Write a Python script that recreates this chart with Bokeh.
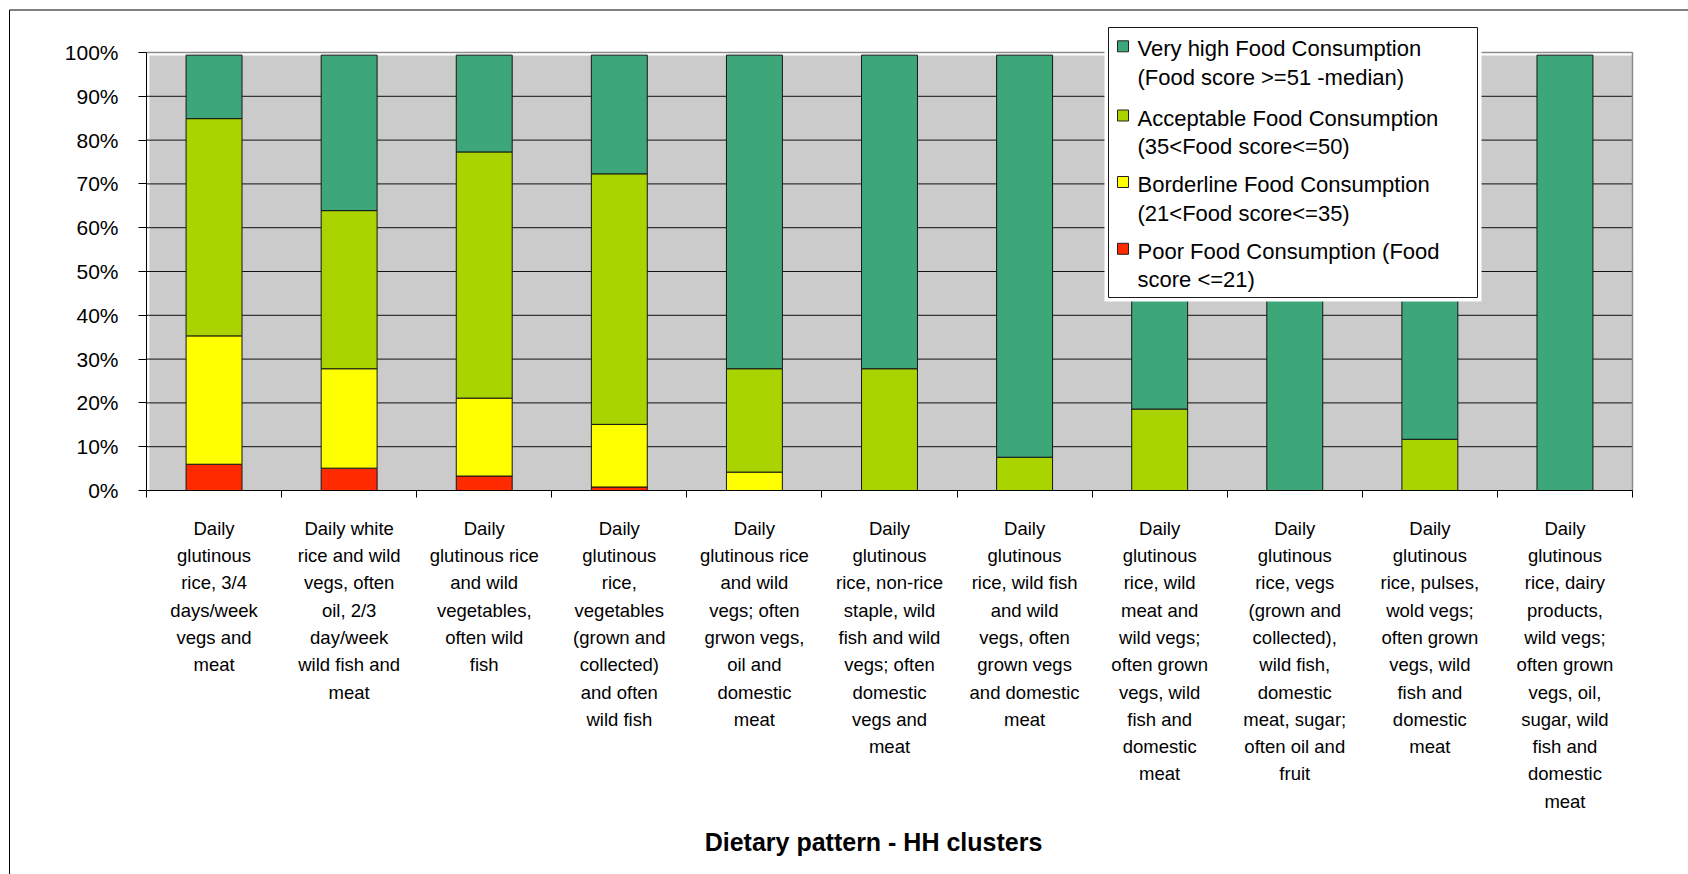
from bokeh.plotting import figure
from bokeh.models import ColumnDataSource, Range1d, LinearAxis, FixedTicker, PrintfTickFormatter
from bokeh.embed import file_html
from bokeh.resources import INLINE
from bokeh.core.properties import value

# ---- data -------------------------------------------------------------
categories = [
    "Daily\nglutinous\nrice, 3/4\ndays/week\nvegs and\nmeat",
    "Daily white\nrice and wild\nvegs, often\noil, 2/3\nday/week\nwild fish and\nmeat",
    "Daily\nglutinous rice\nand wild\nvegetables,\noften wild\nfish",
    "Daily\nglutinous\nrice,\nvegetables\n(grown and\ncollected)\nand often\nwild fish",
    "Daily\nglutinous rice\nand wild\nvegs; often\ngrwon vegs,\noil and\ndomestic\nmeat",
    "Daily\nglutinous\nrice, non-rice\nstaple, wild\nfish and wild\nvegs; often\ndomestic\nvegs and\nmeat",
    "Daily\nglutinous\nrice, wild fish\nand wild\nvegs, often\ngrown vegs\nand domestic\nmeat",
    "Daily\nglutinous\nrice, wild\nmeat and\nwild vegs;\noften grown\nvegs, wild\nfish and\ndomestic\nmeat",
    "Daily\nglutinous\nrice, vegs\n(grown and\ncollected),\nwild fish,\ndomestic\nmeat, sugar;\noften oil and\nfruit",
    "Daily\nglutinous\nrice, pulses,\nwold vegs;\noften grown\nvegs, wild\nfish and\ndomestic\nmeat",
    "Daily\nglutinous\nrice, dairy\nproducts,\nwild vegs;\noften grown\nvegs, oil,\nsugar, wild\nfish and\ndomestic\nmeat",
]

# share of households (%) per food consumption group, stacked bottom to top
poor = [6.0, 5.1, 3.3, 0.8, 0, 0, 0, 0, 0, 0, 0]
borderline = [29.3, 22.7, 17.8, 14.3, 4.2, 0, 0, 0, 0, 0, 0]
acceptable = [49.6, 36.1, 56.2, 57.2, 23.6, 27.8, 7.6, 18.6, 0, 11.7, 0]
very_high = [14.5, 35.5, 22.1, 27.1, 71.6, 71.6, 91.8, 80.8, 99.4, 87.7, 99.4]

legend_labels = [
    "Very high Food Consumption\n(Food score >=51 -median)",
    "Acceptable Food Consumption\n(35<Food score<=50)",
    "Borderline Food Consumption\n(21<Food score<=35)",
    "Poor Food Consumption (Food\nscore <=21)",
]

y_ticks = [0, 10, 20, 30, 40, 50, 60, 70, 80, 90, 100]
x_title = "Dietary pattern - HH clusters"

# ---- styling ----------------------------------------------------------
GREEN = "#3da77a"
LIME = "#aad400"
YELLOW = "#ffff00"
RED = "#ff2a00"
PLOT_GREY = "#cbcbcb"
FONT = "Liberation Sans"

W, H = 1688, 874
X0_PX, CAT_PX = 146.0, 135.09   # pixel of the category axis origin, pixels per category
Y0_PX, PCT_PX = 490.0, 4.38     # pixel of 0 %, pixels per percent


def dx(px):
    return (px - X0_PX) / CAT_PX


def dy(py):
    return (Y0_PX - py) / PCT_PX


n = len(categories)

p = figure(
    width=W, height=H, title=None,
    x_range=Range1d(dx(0), dx(W)), y_range=Range1d(dy(H), dy(0)),
    x_axis_type=None, y_axis_type=None,
    output_backend="svg", toolbar_location=None,
    min_border=0, outline_line_color=None,
    background_fill_color="white", border_fill_color="white",
)

# chart border (top and left edges)
p.line(x=[dx(9), dx(9), dx(W + 10)], y=[dy(H + 10), dy(9.5), dy(9.5)],
       line_color="black", line_width=1)

# plot area
p.quad(left=[dx(149)], right=[n], bottom=[0], top=[dy(55)],
       fill_color=PLOT_GREY, line_color=None)
grid_y = y_ticks[1:-1]
p.segment(x0=[0] * len(grid_y), x1=[n] * len(grid_y), y0=grid_y, y1=grid_y,
          line_color="#111111", line_width=1)
p.line(x=[0, n, n], y=[y_ticks[-1], y_ticks[-1], 0], line_color="#8c8c8c", line_width=1.5)

# stacked bars
src = ColumnDataSource(dict(
    x=[i + 0.5 for i in range(n)],
    poor=poor, borderline=borderline, acceptable=acceptable, very_high=very_high,
))
p.vbar_stack(["poor", "borderline", "acceptable", "very_high"], x="x", width=0.414,
             fill_color=[RED, YELLOW, LIME, GREEN], line_color="#161616",
             line_width=1, source=src)

# axes
yaxis = LinearAxis(
    fixed_location=0, bounds=(0, 100),
    ticker=FixedTicker(ticks=y_ticks), formatter=PrintfTickFormatter(format="%d%%"),
    major_tick_out=8, major_tick_in=0, minor_tick_out=0, minor_tick_in=0,
    major_label_standoff=20, axis_line_color="black", major_tick_line_color="black",
    major_label_text_font=FONT, major_label_text_font_size="21px",
    major_label_text_color="black",
)
p.add_layout(yaxis, "left")

xaxis = LinearAxis(
    fixed_location=0, bounds=(0, n),
    ticker=FixedTicker(ticks=list(range(n + 1))),
    major_label_overrides={i: "" for i in range(n + 1)},
    major_tick_out=7, major_tick_in=0, minor_tick_out=0, minor_tick_in=0,
    axis_line_color="black", major_tick_line_color="black",
)
p.add_layout(xaxis, "below")

# category labels, one text row per line
LINE_STEP = 27.3
FIRST_BASE = 527.7
lx, ly, lt = [], [], []
for i, cat in enumerate(categories):
    for k, line in enumerate(cat.split("\n")):
        lx.append(i + 0.5)
        ly.append(dy(FIRST_BASE + k * LINE_STEP))
        lt.append(line)
p.text(x=lx, y=ly, text=lt, text_font=value(FONT), text_font_size="18.5px",
       text_align="center", text_baseline="alphabetic", text_color="black")

# axis title
p.text(x=[dx(873)], y=[dy(841)], text=[x_title], text_font=value(FONT),
       text_font_size="25px", text_font_style="bold", text_align="center",
       text_baseline="alphabetic", text_color="black")

# legend
legend_colors = [GREEN, LIME, YELLOW, RED]
p.quad(left=[dx(1104)], right=[dx(1481)], top=[dy(23)], bottom=[dy(301)],
       fill_color="white", line_color=None)
p.quad(left=[dx(1108)], right=[dx(1477)], top=[dy(27)], bottom=[dy(297)],
       fill_color="white", line_color="#1a1a1a", line_width=1)
baselines = [48.3, 117.5, 184.0, 250.8]
tx, ty, tt = [], [], []
for label, base in zip(legend_labels, baselines):
    for k, line in enumerate(label.split("\n")):
        tx.append(dx(1137))
        ty.append(dy(base + k * 28.5))
        tt.append(line)
p.text(x=tx, y=ty, text=tt, text_font=value(FONT), text_font_size="22px",
       text_align="left", text_baseline="alphabetic", text_color="black")
p.scatter(x=[dx(1122.5)] * len(baselines), y=[dy(b - 2.5) for b in baselines],
          marker="square", size=11, fill_color=legend_colors,
          line_color="#222222", line_width=1)

open("out.html", "w").write(file_html(p, INLINE))
